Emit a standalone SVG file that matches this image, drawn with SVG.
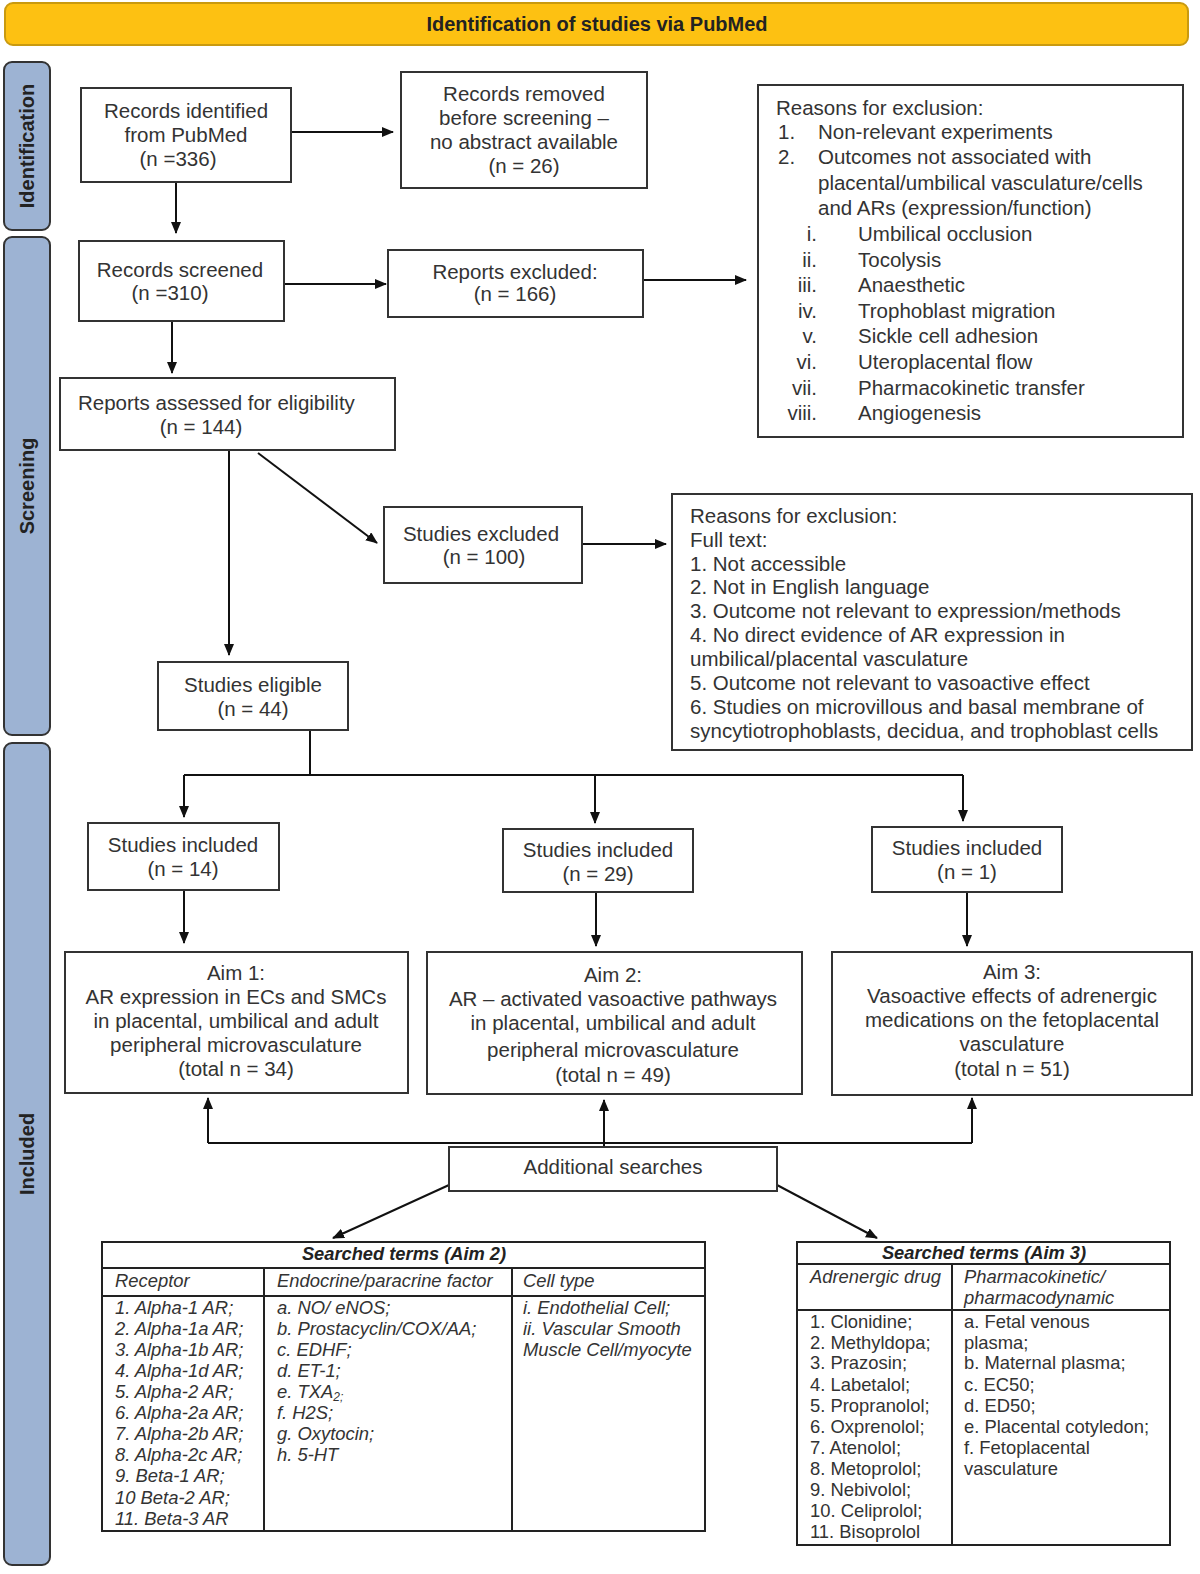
<svg xmlns="http://www.w3.org/2000/svg" width="1200" height="1574" viewBox="0 0 1200 1574">
<defs>
<marker id="ah" viewBox="0 0 12 10" refX="11" refY="5" markerWidth="12" markerHeight="10" markerUnits="userSpaceOnUse" orient="auto">
<path d="M0,0 L12,5 L0,10 z" fill="#111"/>
</marker>
</defs>
<style>
text{font-family:"Liberation Sans",Arial,sans-serif;fill:#333;font-size:20.5px}
.c{text-anchor:middle}
.box{fill:#fff;stroke:#333;stroke-width:2}
.side{fill:#9db3d3;stroke:#333;stroke-width:2}
.sl{font-weight:bold;font-size:20px;text-anchor:middle;fill:#222}
.ln{fill:none;stroke:#111;stroke-width:2}
.ar{fill:none;stroke:#111;stroke-width:2;marker-end:url(#ah)}
.t{font-size:18.4px;font-style:italic}
.tn{font-size:18.4px}
.th{font-size:18.3px;font-style:italic;font-weight:bold;text-anchor:middle;fill:#222}
.tb{fill:#fff;stroke:#222;stroke-width:2}
.r{text-anchor:end}
</style>

<g id="banner">
<rect x="5" y="3" width="1183" height="42" rx="8" fill="#fdc112" stroke="#c99a10" stroke-width="2"/>
<text x="597" y="31" class="c" style="font-weight:bold;font-size:20px;fill:#222">Identification of studies via PubMed</text>
</g>

<g id="side-identification">
<rect class="side" x="4" y="62" width="46" height="168" rx="8"/>
<text class="sl" transform="translate(34,146) rotate(-90)">Identification</text>
</g>
<g id="side-screening">
<rect class="side" x="4" y="237" width="46" height="498" rx="8"/>
<text class="sl" transform="translate(34,486) rotate(-90)">Screening</text>
</g>
<g id="side-included">
<rect class="side" x="4" y="743" width="46" height="822" rx="8"/>
<text class="sl" transform="translate(34,1154) rotate(-90)">Included</text>
</g>

<g id="connectors">
<line class="ar" x1="291" y1="132" x2="393" y2="132"/>
<line class="ar" x1="176" y1="182" x2="176" y2="233"/>
<line class="ar" x1="284" y1="284" x2="386" y2="284"/>
<line class="ar" x1="643" y1="280" x2="746" y2="280"/>
<line class="ar" x1="172" y1="321" x2="172" y2="373"/>
<line class="ar" x1="229" y1="450" x2="229" y2="655"/>
<line class="ar" x1="258" y1="453" x2="377" y2="543"/>
<line class="ar" x1="582" y1="544" x2="666" y2="544"/>
<polyline class="ln" points="310,730 310,775"/>
<polyline class="ln" points="184,775 963,775"/>
<line class="ar" x1="184" y1="775" x2="184" y2="817"/>
<line class="ar" x1="595" y1="775" x2="595" y2="823"/>
<line class="ar" x1="963" y1="775" x2="963" y2="821"/>
<line class="ar" x1="184" y1="890" x2="184" y2="943"/>
<line class="ar" x1="596" y1="892" x2="596" y2="946"/>
<line class="ar" x1="967" y1="892" x2="967" y2="946"/>
<polyline class="ln" points="208,1143 972,1143"/>
<line class="ar" x1="208" y1="1143" x2="208" y2="1098"/>
<line class="ar" x1="604" y1="1147" x2="604" y2="1100"/>
<line class="ar" x1="972" y1="1143" x2="972" y2="1098"/>
<line class="ar" x1="449" y1="1185" x2="333" y2="1238"/>
<line class="ar" x1="777" y1="1185" x2="877" y2="1238"/>
</g>

<g id="records-identified">
<rect class="box" x="81" y="88" width="210" height="94"/>
<text class="c" x="186" y="118">Records identified</text>
<text class="c" x="186" y="142">from PubMed</text>
<text class="c" x="178" y="166">(n =336)</text>
</g>

<g id="records-removed">
<rect class="box" x="401" y="72" width="246" height="116"/>
<text class="c" x="524" y="101">Records removed</text>
<text class="c" x="524" y="125">before screening –</text>
<text class="c" x="524" y="149">no abstract available</text>
<text class="c" x="524" y="173">(n = 26)</text>
</g>

<g id="reasons-1">
<rect class="box" x="758" y="85" width="425" height="352"/>
<text x="776" y="115">Reasons for exclusion:</text>
<text x="778" y="139">1.</text><text x="818" y="139">Non-relevant experiments</text>
<text x="778" y="164">2.</text><text x="818" y="164">Outcomes not associated with</text>
<text x="818" y="190">placental/umbilical vasculature/cells</text>
<text x="818" y="215">and ARs (expression/function)</text>
<text class="r" x="817" y="241">i.</text><text x="858" y="241">Umbilical occlusion</text>
<text class="r" x="817" y="267">ii.</text><text x="858" y="267">Tocolysis</text>
<text class="r" x="817" y="292">iii.</text><text x="858" y="292">Anaesthetic</text>
<text class="r" x="817" y="318">iv.</text><text x="858" y="318">Trophoblast migration</text>
<text class="r" x="817" y="343">v.</text><text x="858" y="343">Sickle cell adhesion</text>
<text class="r" x="817" y="369">vi.</text><text x="858" y="369">Uteroplacental flow</text>
<text class="r" x="817" y="395">vii.</text><text x="858" y="395">Pharmacokinetic transfer</text>
<text class="r" x="817" y="420">viii.</text><text x="858" y="420">Angiogenesis</text>
</g>

<g id="records-screened">
<rect class="box" x="79" y="241" width="205" height="80"/>
<text class="c" x="180" y="277">Records screened</text>
<text class="c" x="170" y="300">(n =310)</text>
</g>

<g id="reports-excluded">
<rect class="box" x="388" y="250" width="255" height="67"/>
<text class="c" x="515" y="279">Reports excluded:</text>
<text class="c" x="515" y="301">(n = 166)</text>
</g>

<g id="reports-assessed">
<rect class="box" x="60" y="378" width="335" height="72"/>
<text x="78" y="410">Reports assessed for eligibility</text>
<text class="c" x="201" y="434">(n = 144)</text>
</g>

<g id="studies-excluded">
<rect class="box" x="384" y="507" width="198" height="76"/>
<text class="c" x="481" y="541">Studies excluded</text>
<text class="c" x="484" y="564">(n = 100)</text>
</g>

<g id="reasons-2">
<rect class="box" x="672" y="494" width="520" height="256"/>
<text x="690" y="523">Reasons for exclusion:</text>
<text x="690" y="547">Full text:</text>
<text x="690" y="571">1. Not accessible</text>
<text x="690" y="594">2. Not in English language</text>
<text x="690" y="618">3. Outcome not relevant to expression/methods</text>
<text x="690" y="642">4. No direct evidence of AR expression in</text>
<text x="690" y="666">umbilical/placental vasculature</text>
<text x="690" y="690">5. Outcome not relevant to vasoactive effect</text>
<text x="690" y="714">6. Studies on microvillous and basal membrane of</text>
<text x="690" y="738">syncytiotrophoblasts, decidua, and trophoblast cells</text>
</g>

<g id="studies-eligible">
<rect class="box" x="158" y="662" width="190" height="68"/>
<text class="c" x="253" y="692">Studies eligible</text>
<text class="c" x="253" y="716">(n = 44)</text>
</g>

<g id="included-14">
<rect class="box" x="88" y="823" width="191" height="67"/>
<text class="c" x="183" y="852">Studies included</text>
<text class="c" x="183" y="876">(n = 14)</text>
</g>
<g id="included-29">
<rect class="box" x="503" y="829" width="190" height="63"/>
<text class="c" x="598" y="857">Studies included</text>
<text class="c" x="598" y="881">(n = 29)</text>
</g>
<g id="included-1">
<rect class="box" x="872" y="827" width="190" height="65"/>
<text class="c" x="967" y="855">Studies included</text>
<text class="c" x="967" y="879">(n = 1)</text>
</g>

<g id="aim-1">
<rect class="box" x="65" y="952" width="343" height="141"/>
<text class="c" x="236" y="980">Aim 1:</text>
<text class="c" x="236" y="1004">AR expression in ECs and SMCs</text>
<text class="c" x="236" y="1028">in placental, umbilical and adult</text>
<text class="c" x="236" y="1052">peripheral microvasculature</text>
<text class="c" x="236" y="1076">(total n = 34)</text>
</g>
<g id="aim-2">
<rect class="box" x="427" y="952" width="375" height="142"/>
<text class="c" x="613" y="982">Aim 2:</text>
<text class="c" x="613" y="1006">AR – activated vasoactive pathways</text>
<text class="c" x="613" y="1030">in placental, umbilical and adult</text>
<text class="c" x="613" y="1057">peripheral microvasculature</text>
<text class="c" x="613" y="1082">(total n = 49)</text>
</g>
<g id="aim-3">
<rect class="box" x="832" y="952" width="360" height="143"/>
<text class="c" x="1012" y="979">Aim 3:</text>
<text class="c" x="1012" y="1003">Vasoactive effects of adrenergic</text>
<text class="c" x="1012" y="1027">medications on the fetoplacental</text>
<text class="c" x="1012" y="1051">vasculature</text>
<text class="c" x="1012" y="1076">(total n = 51)</text>
</g>

<g id="additional-searches">
<rect class="box" x="449" y="1147" width="328" height="44"/>
<text class="c" x="613" y="1174">Additional searches</text>
</g>

<g id="table-aim-2">
<rect class="tb" x="102" y="1242" width="603" height="289"/>
<line x1="102" y1="1268" x2="705" y2="1268" stroke="#222" stroke-width="2"/>
<line x1="102" y1="1296" x2="705" y2="1296" stroke="#222" stroke-width="2"/>
<line x1="264" y1="1268" x2="264" y2="1531" stroke="#222" stroke-width="2"/>
<line x1="512" y1="1268" x2="512" y2="1531" stroke="#222" stroke-width="2"/>
<text class="th" x="404" y="1260">Searched terms (Aim 2)</text>
<text class="t" x="115" y="1287">Receptor</text>
<text class="t" x="277" y="1287">Endocrine/paracrine factor</text>
<text class="t" x="523" y="1287">Cell type</text>
<text class="t" x="115" y="1314">1. Alpha-1 AR;</text>
<text class="t" x="115" y="1335">2. Alpha-1a AR;</text>
<text class="t" x="115" y="1356">3. Alpha-1b AR;</text>
<text class="t" x="115" y="1377">4. Alpha-1d AR;</text>
<text class="t" x="115" y="1398">5. Alpha-2 AR;</text>
<text class="t" x="115" y="1419">6. Alpha-2a AR;</text>
<text class="t" x="115" y="1440">7. Alpha-2b AR;</text>
<text class="t" x="115" y="1461">8. Alpha-2c AR;</text>
<text class="t" x="115" y="1482">9. Beta-1 AR;</text>
<text class="t" x="115" y="1504">10 Beta-2 AR;</text>
<text class="t" x="115" y="1525">11. Beta-3 AR</text>
<text class="t" x="277" y="1314">a. NO/ eNOS;</text>
<text class="t" x="277" y="1335">b. Prostacyclin/COX/AA;</text>
<text class="t" x="277" y="1356">c.  EDHF;</text>
<text class="t" x="277" y="1377">d. ET-1;</text>
<text class="t" x="277" y="1398">e. TXA<tspan font-size="12" dy="3">2</tspan><tspan font-size="12">;</tspan></text>
<text class="t" x="277" y="1419">f. H2S;</text>
<text class="t" x="277" y="1440">g. Oxytocin;</text>
<text class="t" x="277" y="1461">h. 5-HT</text>
<text class="t" x="523" y="1314">i. Endothelial Cell;</text>
<text class="t" x="523" y="1335">ii. Vascular Smooth</text>
<text class="t" x="523" y="1356">Muscle Cell/myocyte</text>
</g>

<g id="table-aim-3">
<rect class="tb" x="797" y="1242" width="373" height="303" stroke-width="3"/>
<line x1="797" y1="1264" x2="1170" y2="1264" stroke="#222" stroke-width="2"/>
<line x1="797" y1="1310" x2="1170" y2="1310" stroke="#222" stroke-width="2"/>
<line x1="952" y1="1264" x2="952" y2="1545" stroke="#222" stroke-width="2"/>
<text class="th" x="984" y="1259">Searched terms (Aim 3)</text>
<text class="t" x="810" y="1283">Adrenergic drug</text>
<text class="t" x="964" y="1283">Pharmacokinetic/</text>
<text class="t" x="964" y="1304">pharmacodynamic</text>
<text class="tn" x="810" y="1328">1. Clonidine;</text>
<text class="tn" x="810" y="1349">2. Methyldopa;</text>
<text class="tn" x="810" y="1369">3. Prazosin;</text>
<text class="tn" x="810" y="1391">4. Labetalol;</text>
<text class="tn" x="810" y="1412">5. Propranolol;</text>
<text class="tn" x="810" y="1433">6. Oxprenolol;</text>
<text class="tn" x="810" y="1454">7. Atenolol;</text>
<text class="tn" x="810" y="1475">8. Metoprolol;</text>
<text class="tn" x="810" y="1496">9. Nebivolol;</text>
<text class="tn" x="810" y="1517">10. Celiprolol;</text>
<text class="tn" x="810" y="1538">11. Bisoprolol</text>
<text class="tn" x="964" y="1328">a. Fetal venous</text>
<text class="tn" x="964" y="1349">plasma;</text>
<text class="tn" x="964" y="1369">b. Maternal plasma;</text>
<text class="tn" x="964" y="1391">c. EC50;</text>
<text class="tn" x="964" y="1412">d. ED50;</text>
<text class="tn" x="964" y="1433">e. Placental cotyledon;</text>
<text class="tn" x="964" y="1454">f. Fetoplacental</text>
<text class="tn" x="964" y="1475">vasculature</text>
</g>
</svg>
